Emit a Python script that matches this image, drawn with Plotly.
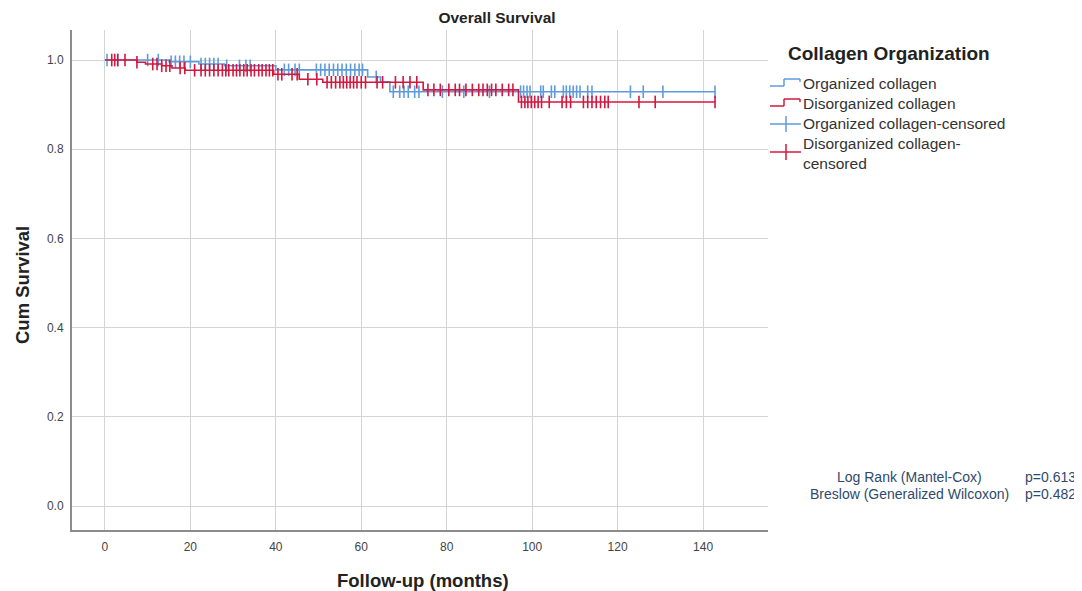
import plotly.graph_objects as go

# ---------------- data ----------------
x_ticks = [0, 20, 40, 60, 80, 100, 120, 140]
y_ticks = [0.0, 0.2, 0.4, 0.6, 0.8, 1.0]
y_tick_labels = ["0.0", "0.2", "0.4", "0.6", "0.8", "1.0"]

org_event_times = [0, 15, 22, 28, 40, 61.5, 64.5, 66.7]
org_event_surv = [1.0, 0.996, 0.991, 0.987, 0.978, 0.962, 0.951, 0.929]
org_end_time = 142.8

dis_event_times = [0, 7.5, 9.5, 13.3, 15.7, 18.8, 39.5, 45.5, 51, 74.5, 96.8]
dis_event_surv = [1.0, 0.995, 0.991, 0.987, 0.982, 0.977, 0.968, 0.957, 0.950, 0.933, 0.906]
dis_end_time = 142.8

org_censored = [0.5, 3, 10, 12.5, 15.5, 16.5, 17.5, 18.5, 20, 22.5, 23.5, 24.5, 25.5,
                26.5, 28.5, 31.5, 33, 34, 42, 43, 44.5, 45.5, 49.5, 50.5, 51.5, 52.5,
                53.5, 54.5, 55.5, 56.5, 57.5, 58.5, 59.5, 60.3, 63.5, 67.5, 69, 70, 71,
                72.5, 73.5, 79, 84, 90, 97.3, 98, 98.8, 99.5, 102, 102.6, 104.5, 105.3,
                107.3, 108, 108.8, 109.6, 110.4, 111.2, 113, 114, 123, 126, 130.6, 142.8]

dis_censored = [1.6, 2.3, 3, 4.7, 7.5, 11.2, 12.2, 13.3, 14.3, 15.2, 17.6, 18.7, 21,
                22.5, 23.5, 24.5, 25.5, 26.5, 27.5, 28.3, 29, 30, 30.8, 31.6, 32.5, 33.3,
                34.2, 35, 36, 36.8, 37.7, 38.5, 39.3, 40.5, 41.4, 43.8, 45, 47.5, 49.6,
                52, 53, 54, 55, 55.8, 56.6, 57.4, 58.2, 59, 60, 61, 63.7, 65, 68, 69.8,
                71.4, 73, 75.6, 77, 78.5, 80.5, 82, 83, 84.5, 86, 87.5, 88.5, 89.5, 90.5,
                91.5, 93, 94.5, 95.5, 97.5, 98.3, 99, 99.8, 100.6, 101.4, 102.2, 104, 107,
                108, 109, 112, 113, 114, 115, 116, 117, 117.8, 125, 128.8, 142.8]

series_names = ["Organized collagen", "Disorganized collagen",
                "Organized collagen-censored", "Disorganized collagen-\ncensored"]
stats_labels = ["Log Rank (Mantel-Cox)", "Breslow (Generalized Wilcoxon)"]
stats_values = ["p=0.613", "p=0.482"]

BLUE = "#5E9BDD"
RED = "#D3173F"
FONT = "Arial, Liberation Sans, sans-serif"


def surv_at(t, times, surv):
    s = surv[0]
    for tt, ss in zip(times, surv):
        if t >= tt:
            s = ss
    return s


def step_xy(times, surv, end):
    xs, ys = [], []
    for i, (t, s) in enumerate(zip(times, surv)):
        if i > 0:
            xs.append(t)
            ys.append(surv[i - 1])
        xs.append(t)
        ys.append(s)
    xs.append(end)
    ys.append(surv[-1])
    return xs, ys


fig = go.Figure()

for times, surv, end, cens, col in [
    (org_event_times, org_event_surv, org_end_time, org_censored, BLUE),
    (dis_event_times, dis_event_surv, dis_end_time, dis_censored, RED),
]:
    xs, ys = step_xy(times, surv, end)
    fig.add_trace(go.Scatter(x=xs, y=ys, mode="lines",
                             line=dict(color=col, width=1.6), showlegend=False,
                             hoverinfo="skip"))
    fig.add_trace(go.Scatter(x=cens, y=[surv_at(t, times, surv) for t in cens],
                             mode="markers",
                             marker=dict(symbol="line-ns", size=9,
                                         line=dict(color=col, width=1.6)),
                             showlegend=False, hoverinfo="skip"))

# page body has an 8px margin: figure drawn at (8, 8)
OFF = 8
W, H = 1082 - OFF, 591 - OFF
L, T = 72 - OFF, 30 - OFF
R = W - (768 - OFF)
B = H - (530 - OFF)
PW, PH = W - L - R, H - T - B


def px(xp):  # reference-pixel x -> paper
    return (xp - OFF - L) / PW


def py(yp):  # reference-pixel y -> paper
    return (H - B - (yp - OFF)) / PH


fig.update_layout(
    width=W, height=H,
    margin=dict(l=L, r=R, t=T, b=B, autoexpand=False),
    paper_bgcolor="white", plot_bgcolor="white",
    font=dict(family=FONT, color="#333333"),
    title=dict(text="<b>Overall Survival</b>", x=(497 - OFF) / W, y=1 - (18 - OFF) / H,
               xref="container", yref="container", xanchor="center", yanchor="middle",
               font=dict(size=15.5, color="#222222", family=FONT)),
    showlegend=False,
)

fig.update_xaxes(range=[-7.7, 155.2], tickvals=x_ticks, ticktext=[str(v) for v in x_ticks],
                 showgrid=True, gridcolor="#D4D4D4", gridwidth=1.3,
                 showline=True, linecolor="#8C8C8C", linewidth=2,
                 ticks="outside", ticklen=5, tickcolor="rgba(0,0,0,0)",
                 tickfont=dict(size=12, color="#444444"), zeroline=False,
                 automargin=False)
fig.update_yaxes(range=[-0.0538, 1.0673], tickvals=y_ticks, ticktext=y_tick_labels,
                 showgrid=True, gridcolor="#D4D4D4", gridwidth=1.3,
                 showline=True, linecolor="#8C8C8C", linewidth=2,
                 ticks="outside", ticklen=4, tickcolor="rgba(0,0,0,0)",
                 tickfont=dict(size=12, color="#444444"), zeroline=False,
                 automargin=False)

ann = []
# axis titles
ann.append(dict(text="<b>Follow-up (months)</b>", x=px(423), y=py(580), xref="paper",
                yref="paper", showarrow=False, xanchor="center", yanchor="middle",
                font=dict(size=18.5, color="#222222")))
ann.append(dict(text="<b>Cum Survival</b>", x=px(22), y=py(285), xref="paper",
                yref="paper", showarrow=False, xanchor="center", yanchor="middle",
                textangle=-90, font=dict(size=18.5, color="#222222")))

# legend (drawn manually)
ann.append(dict(text="<b>Collagen Organization</b>", x=px(786), y=py(53), xref="paper",
                yref="paper", showarrow=False, xanchor="left", yanchor="middle",
                font=dict(size=19, color="#222222")))
item_y = [83, 103, 124]
for name, yy in zip(series_names[:3], item_y):
    ann.append(dict(text=name, x=px(801), y=py(yy), xref="paper", yref="paper",
                    showarrow=False, xanchor="left", yanchor="middle",
                    font=dict(size=15.5, color="#333333")))
ann.append(dict(text=series_names[3].replace("\n", "<br>"), x=px(801), y=py(153),
                xref="paper", yref="paper", showarrow=False, xanchor="left",
                yanchor="middle", align="left",
                font=dict(size=15.5, color="#333333")))

# statistics
stat_y = [477, 494]
for lab, val, yy in zip(stats_labels, stats_values, stat_y):
    ann.append(dict(text=lab, x=px(909), y=py(yy), xref="paper", yref="paper",
                    showarrow=False, xanchor="center", yanchor="middle",
                    font=dict(size=14, color="#2E4A6B")))
    ann.append(dict(text=val, x=px(1078), y=py(yy), xref="paper", yref="paper",
                    showarrow=False, xanchor="right", yanchor="middle",
                    font=dict(size=14, color="#2E4A6B")))
fig.update_layout(annotations=ann)

# legend icons
shapes = []
def pline(x0, y0, x1, y1, col):
    shapes.append(dict(type="line", xref="paper", yref="paper",
                       x0=px(x0), y0=py(y0), x1=px(x1), y1=py(y1),
                       line=dict(color=col, width=1.5)))

for yy, col in [(83, BLUE), (103, RED)]:
    pline(770, yy + 3, 784, yy + 3, col)
    pline(784, yy + 3, 784, yy - 4, col)
    pline(784, yy - 4, 800, yy - 4, col)
    pline(800, yy - 4, 800, yy - 1, col)
for yy, col in [(124, BLUE), (152, RED)]:
    pline(770, yy, 801, yy, col)
    pline(786, yy - 8, 786, yy + 8, col)
fig.update_layout(shapes=shapes)

fig.write_html("out.html")
